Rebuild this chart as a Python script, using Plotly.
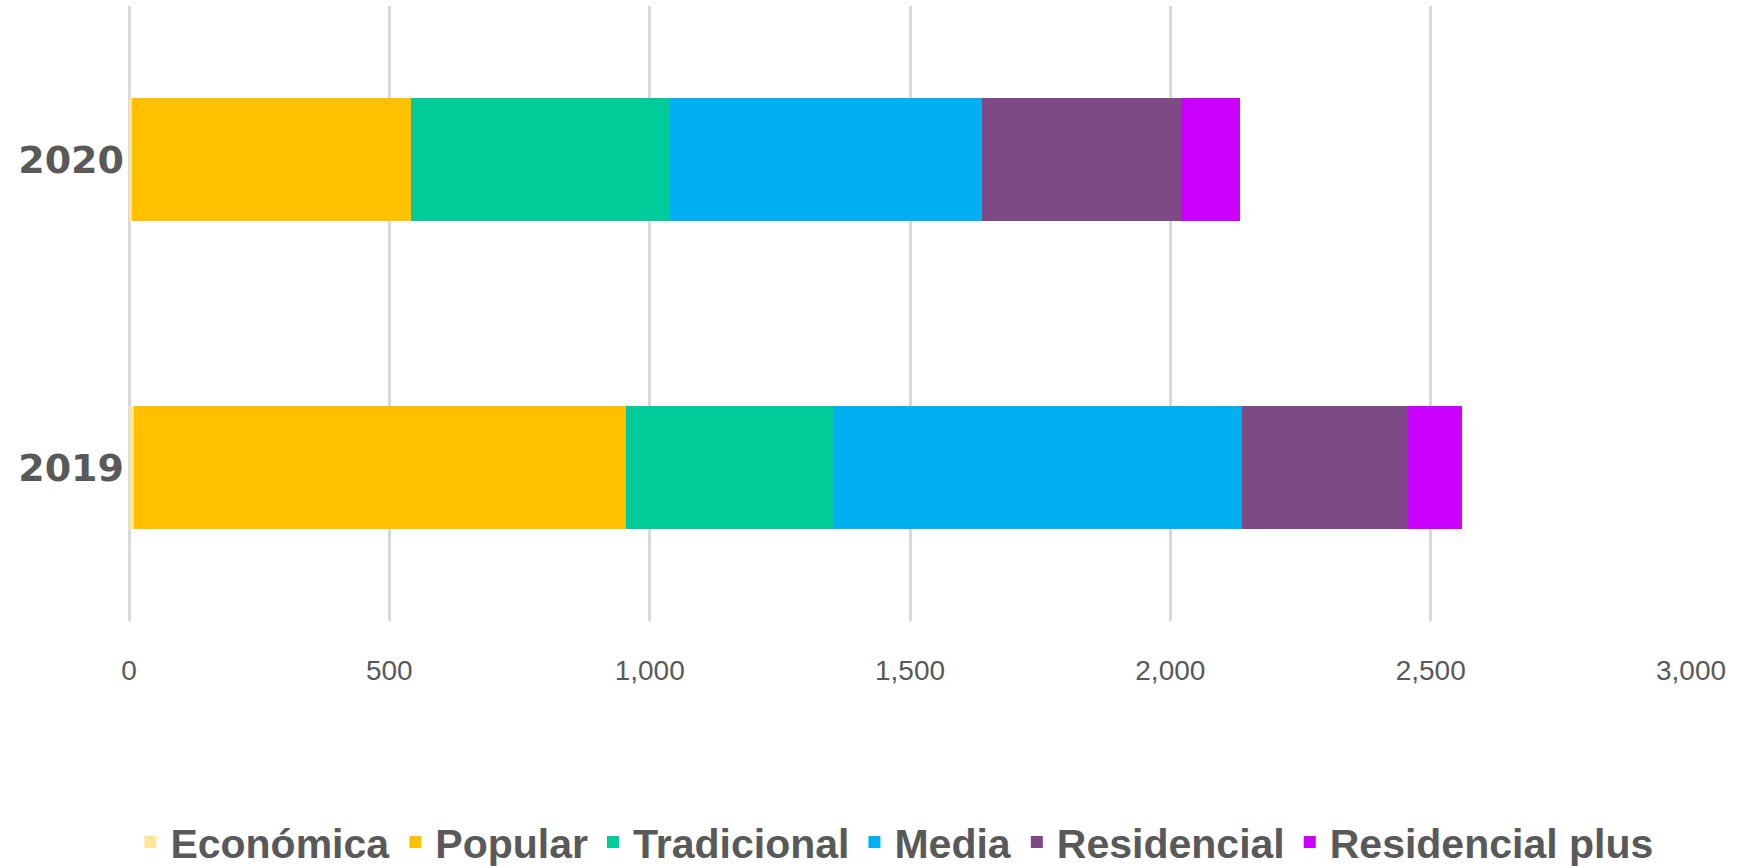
import plotly.graph_objects as go

# Housing segments per year (units), stacked horizontally
years = ["2019", "2020"]
segments = ["Económica", "Popular", "Tradicional", "Media", "Residencial", "Residencial plus"]
economica = [10, 5]
popular = [944, 536]
tradicional = [400, 499]
media = [783, 599]
residencial = [320, 381]
residencial_plus = [104, 114]
colors = ["#FFE699", "#FFC000", "#00CC99", "#00B0F0", "#7E4A85", "#CC00FF"]

values = [economica, popular, tradicional, media, residencial, residencial_plus]
x_ticks = [0, 500, 1000, 1500, 2000, 2500, 3000]
x_ticktext = ["0", "500", "1,000", "1,500", "2,000", "2,500", "3,000"]

FONT = "Liberation Sans, Arial, sans-serif"
GREY = "#595959"

fig = go.Figure()
for name, vals, col in zip(segments, values, colors):
    fig.add_trace(go.Bar(
        y=years, x=vals, name=name, orientation="h",
        marker=dict(color=col, line=dict(width=0)),
        width=0.4,
    ))

fig.update_layout(
    barmode="stack",
    width=1748, height=866,
    margin=dict(l=129, r=57, t=5.5, b=244.5, autoexpand=False),
    paper_bgcolor="white", plot_bgcolor="white",
    font=dict(family=FONT, color=GREY),
    showlegend=True,
    legend=dict(
        orientation="h", x=0.49, xanchor="center", y=-0.36, yanchor="middle",
        font=dict(size=41, family=FONT, color=GREY, weight="bold"),
        traceorder="normal", itemwidth=30,
    ),
    xaxis=dict(
        range=[0, 3000], tickvals=x_ticks, ticktext=x_ticktext,
        showgrid=True, gridcolor="#D9D9D9", gridwidth=3,
        zeroline=True, zerolinecolor="#D9D9D9", zerolinewidth=3,
        showline=False, ticks="", ticklabelstandoff=30,
        tickfont=dict(size=28, family=FONT, color=GREY),
    ),
    yaxis=dict(
        type="category", categoryorder="array", categoryarray=years,
        range=[-0.5, 1.5], showgrid=False, zeroline=False, showline=False,
        ticks="", ticklabelstandoff=4,
        tickfont=dict(size=38, family="DejaVu Sans, sans-serif", color=GREY, weight="bold"),
    ),
)

fig.write_html("out.html")
